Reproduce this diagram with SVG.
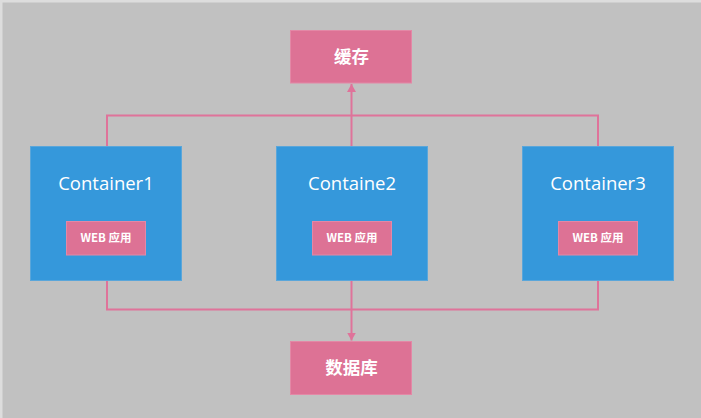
<svg xmlns="http://www.w3.org/2000/svg" width="701" height="418" viewBox="0 0 701 418">
<defs>
<style>
.bg{fill:#c1c1c1}
.ctr{fill:#3598db;stroke:#5aa6da;stroke-width:1}
.pk{fill:#dd7295;stroke:#e388a6;stroke-width:1}
.ln{fill:none;stroke:#df739a;stroke-width:2}
.t1{font-family:"Open Sans","DejaVu Sans",sans-serif;font-size:18.5px;fill:#ffffff;text-anchor:middle}
.t2{font-family:"Noto Sans CJK SC","Noto Sans",sans-serif;font-size:11.5px;font-weight:bold;fill:#ffffff;text-anchor:middle}
.t3{font-family:"Noto Sans CJK SC",sans-serif;font-size:17.5px;font-weight:bold;fill:#ffffff;text-anchor:middle}
</style>
<marker id="ah" viewBox="0 0 8 9" refX="8" refY="4.5" markerWidth="4" markerHeight="4.5" orient="auto" markerUnits="strokeWidth">
<path d="M0,0 L8,4.5 L0,9 Z" fill="#df739a"/>
</marker>
</defs>
<rect x="0" y="0" width="701" height="418" fill="#dddddd"/>
<rect class="bg" x="2.5" y="2.5" width="699" height="416"/>
<g id="connectors">
<polyline class="ln" points="107,146 107,115.5 598,115.5 598,146"/>
<line class="ln" x1="351.5" y1="146" x2="351.5" y2="84" marker-end="url(#ah)"/>
<polyline class="ln" points="107,281 107,309.5 598,309.5 598,255"/>
<line class="ln" x1="351.5" y1="281" x2="351.5" y2="340.5" marker-end="url(#ah)"/>
</g>
<g id="cache">
<rect class="pk" x="290.5" y="30.5" width="121" height="52.5"/>
<text class="t3" x="351.5" y="63">缓存</text>
</g>
<g id="container1">
<rect class="ctr" x="30.5" y="146.5" width="151" height="134"/>
<text class="t1" x="106" y="190">Container1</text>
<g id="web1">
<rect class="pk" x="66.5" y="221.5" width="79" height="33.5"/>
<text class="t2" x="106" y="242">WEB 应用</text>
</g>
</g>
<g id="container2">
<rect class="ctr" x="276.5" y="146.5" width="151" height="134"/>
<text class="t1" x="352" y="190">Containe2</text>
<g id="web2">
<rect class="pk" x="312.5" y="221.5" width="79" height="33.5"/>
<text class="t2" x="352" y="242">WEB 应用</text>
</g>
</g>
<g id="container3">
<rect class="ctr" x="522.5" y="146.5" width="151" height="134"/>
<text class="t1" x="598" y="190">Container3</text>
<g id="web3">
<rect class="pk" x="558.5" y="221.5" width="79" height="33.5"/>
<text class="t2" x="598" y="242">WEB 应用</text>
</g>
</g>
<g id="database">
<rect class="pk" x="290.5" y="341.5" width="121" height="53"/>
<text class="t3" x="351.5" y="374">数据库</text>
</g>
</svg>
